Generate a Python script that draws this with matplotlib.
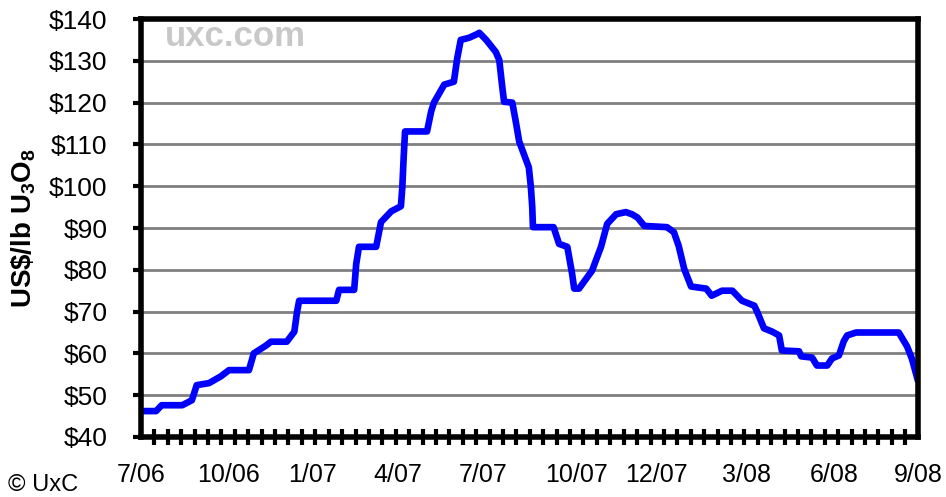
import matplotlib
matplotlib.use("Agg")
import matplotlib.pyplot as plt
from matplotlib.ticker import MultipleLocator

plt.rcParams['font.family'] = ['Liberation Sans', 'DejaVu Sans']
plt.rcParams['mathtext.fontset'] = 'custom'
plt.rcParams['mathtext.rm'] = 'Liberation Sans'
plt.rcParams['mathtext.bf'] = 'Liberation Sans:bold'

# weeks since start of July 2006, spot price in US$/lb U3O8
weeks = [0, 2.2, 3, 6, 7.4, 8.1, 9.9, 11.6, 12.8, 15.7, 16.4, 18.2, 18.9, 21.2,
         22.3, 22.7, 23, 25.2, 28.4, 28.8, 31, 31.3, 31.7, 34.2, 34.9, 36.4,
         37.8, 38, 38.2, 38.4, 41.6, 42.2, 42.6, 44.1, 45.5, 46, 46.5, 47.7,
         48.9, 49.2, 50.2, 51.6, 52.1, 52.5, 52.8, 54, 54.5, 55, 55.7, 56.4,
         56.7, 56.9, 57, 60, 60.8, 62, 62.7, 63, 63.7, 65.6, 66.9, 67.8, 69.1,
         70.5, 71.4, 72.2, 73.2, 76.5, 77.5, 78.2, 79, 80, 82.2, 83, 84.5, 86,
         87.4, 89.2, 89.6, 90.6, 91.8, 92.8, 93.2, 95.7, 96, 97.6, 98.3, 99.8,
         100.5, 101.5, 102.2, 102.7, 104, 110.2, 111.4, 112.1, 112.9]
prices = [46.2, 46.2, 47.6, 47.6, 48.8, 52.4, 52.9, 54.5, 56, 56, 60, 61.9, 62.8, 62.8,
          65.2, 70, 72.6, 72.6, 72.6, 75.2, 75.2, 81.4, 85.5, 85.5, 91.4, 94,
          95.2, 99.7, 106.9, 113.1, 113.1, 117.9, 120, 124.3, 125, 130.7, 135, 135.5,
          136.4, 136.7, 135, 132.1, 130.2, 124.3, 120.2, 120, 115.5, 110.7, 107.6, 104.5,
          99.8, 95, 90.2, 90.2, 86.2, 85.5, 79, 75.5, 75.5, 79.8, 85.5, 91, 93.3,
          93.8, 93.3, 92.5, 90.5, 90.2, 89, 85.7, 80.2, 76, 75.5, 73.8, 75, 75,
          72.6, 71.4, 70, 66, 65.2, 64.3, 60.7, 60.5, 59.3, 59, 57.1, 57.1,
          58.8, 59.5, 62.9, 64.3, 65, 65, 61.7, 58.8, 54]

tick_weeks = [0, 12.7, 25.0, 37.4, 49.8, 63.3, 74.9, 88.1, 100.8, 113]
tick_labels = ["7/06", "10/06", "1/07", "4/07", "7/07", "10/07", "12/07", "3/08", "6/08", "9/08"]
y_ticks = list(range(40, 141, 10))

fig = plt.figure(figsize=(9.46, 4.97), dpi=100)
ax = fig.add_axes([141 / 946, 1 - 437 / 497, 777 / 946, 418 / 497])

for v in y_ticks[1:-1]:
    ax.axhline(v, color="#808080", lw=2.0, zorder=1)

ax.plot(weeks, prices, color="#0000ff", lw=4.8, zorder=3, solid_joinstyle="round")

ax.set_xlim(0, 113)
ax.set_ylim(40, 140)
ax.set_yticks(y_ticks)
ax.set_yticklabels([f"${v}" for v in y_ticks], fontsize=19)
ax.set_xticks(tick_weeks)
ax.set_xticklabels(tick_labels, fontsize=18)
ax.xaxis.set_minor_locator(MultipleLocator(1.95))

ax.tick_params(axis="y", direction="out", length=6, width=3, pad=18, color="black")
ax.tick_params(axis="x", which="major", length=0, pad=19)
ax.tick_params(axis="x", which="minor", direction="inout", length=11, width=3, color="black")

for s in ax.spines.values():
    s.set_linewidth(4)
    s.set_color("black")
    s.set_zorder(4)

ax.set_ylabel(r"US\$/lb U$_\mathbf{3}$O$_\mathbf{8}$", fontsize=20, fontweight="bold")
ax.yaxis.set_label_coords(-103 / 777, 0.5)

fig.text(165 / 946, 1 - 36 / 497, "uxc.com", fontsize=25, fontweight="bold",
         color="#c8c8c8", ha="left", va="center")
fig.text(8 / 946, 1 - 485 / 497, "\u00a9 UxC", fontsize=17, ha="left", va="center")

fig.savefig("out.png", dpi=100)
